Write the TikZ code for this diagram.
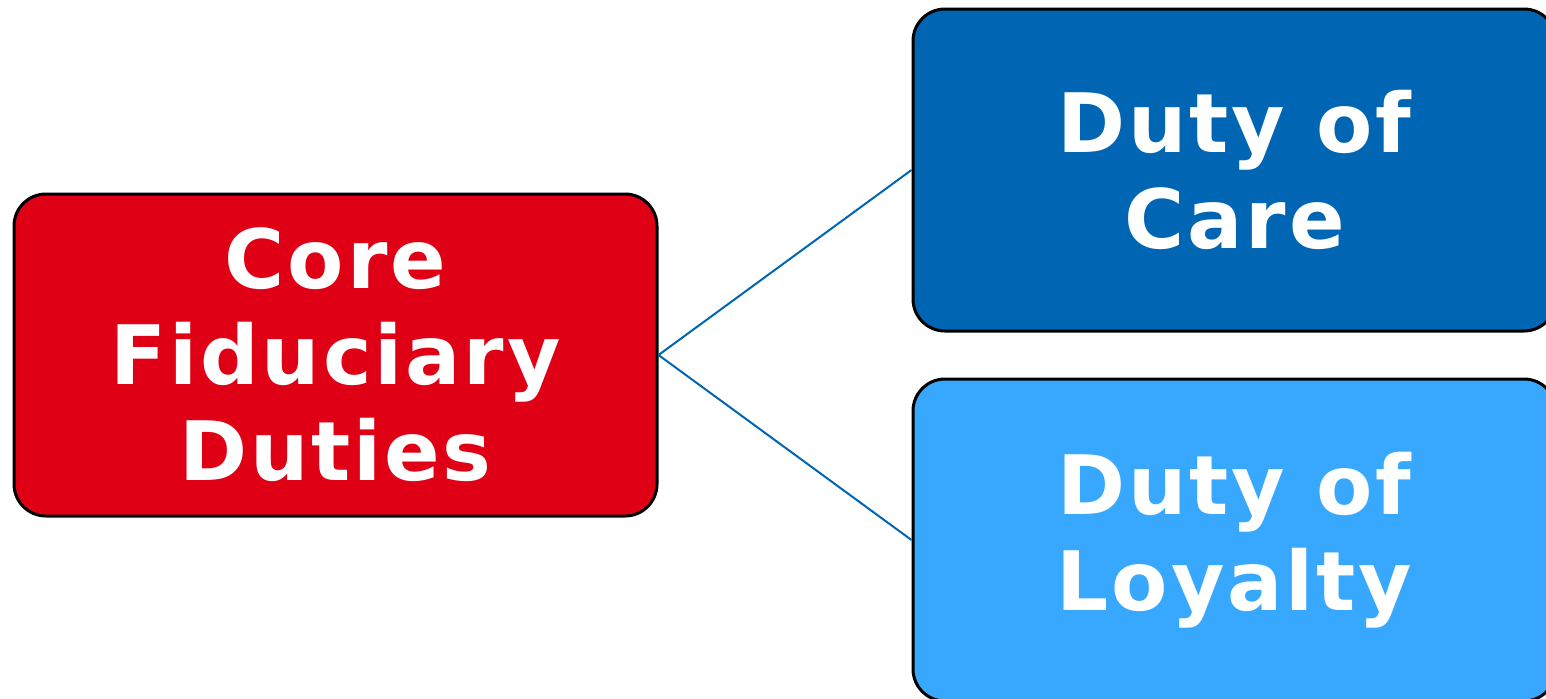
\documentclass[tikz,border=0pt]{standalone}
\usepackage{fontspec}
\setmainfont{DejaVu Sans}
\newfontfamily\boxfont[LetterSpace=3.5]{DejaVu Sans Bold}
\usepackage{xcolor}
\usepackage{tikz}
\usetikzlibrary{positioning}

\definecolor{coreRed}{HTML}{E00016}
\definecolor{careBlue}{HTML}{0066B3}
\definecolor{loyalBlue}{HTML}{38A8FF}

\begin{document}
\begin{tikzpicture}[x=0.5pt,y=-0.5pt]
    % Define a style for the duty boxes
    \tikzset{duty box/.style={draw=black, line width=1.5pt, rounded corners=16pt,
        minimum width=321.5pt, minimum height=161pt, align=center, text=white,
        font=\fontsize{41}{48}\selectfont\boxfont}}
    \tikzset{link/.style={draw=careBlue, line width=1pt}}

    % Fix the size of the page
    \useasboundingbox (0,0) rectangle (1546,698);
    \clip (0,0) rectangle (1546,698);

    % Draw the boxes
    \node[duty box, fill=coreRed] (core) at (335.5,355) {Core\\Fiduciary\\Duties};
    \node[duty box, fill=careBlue] (care) at (1234.5,170) {Duty of\\Care};
    \node[duty box, fill=loyalBlue] (loyalty) at (1234.5,540) {Duty of\\Loyalty};

    % Draw the links
    \draw[link] (core.east) -- (care.west);
    \draw[link] (core.east) -- (loyalty.west);
\end{tikzpicture}
\end{document}
